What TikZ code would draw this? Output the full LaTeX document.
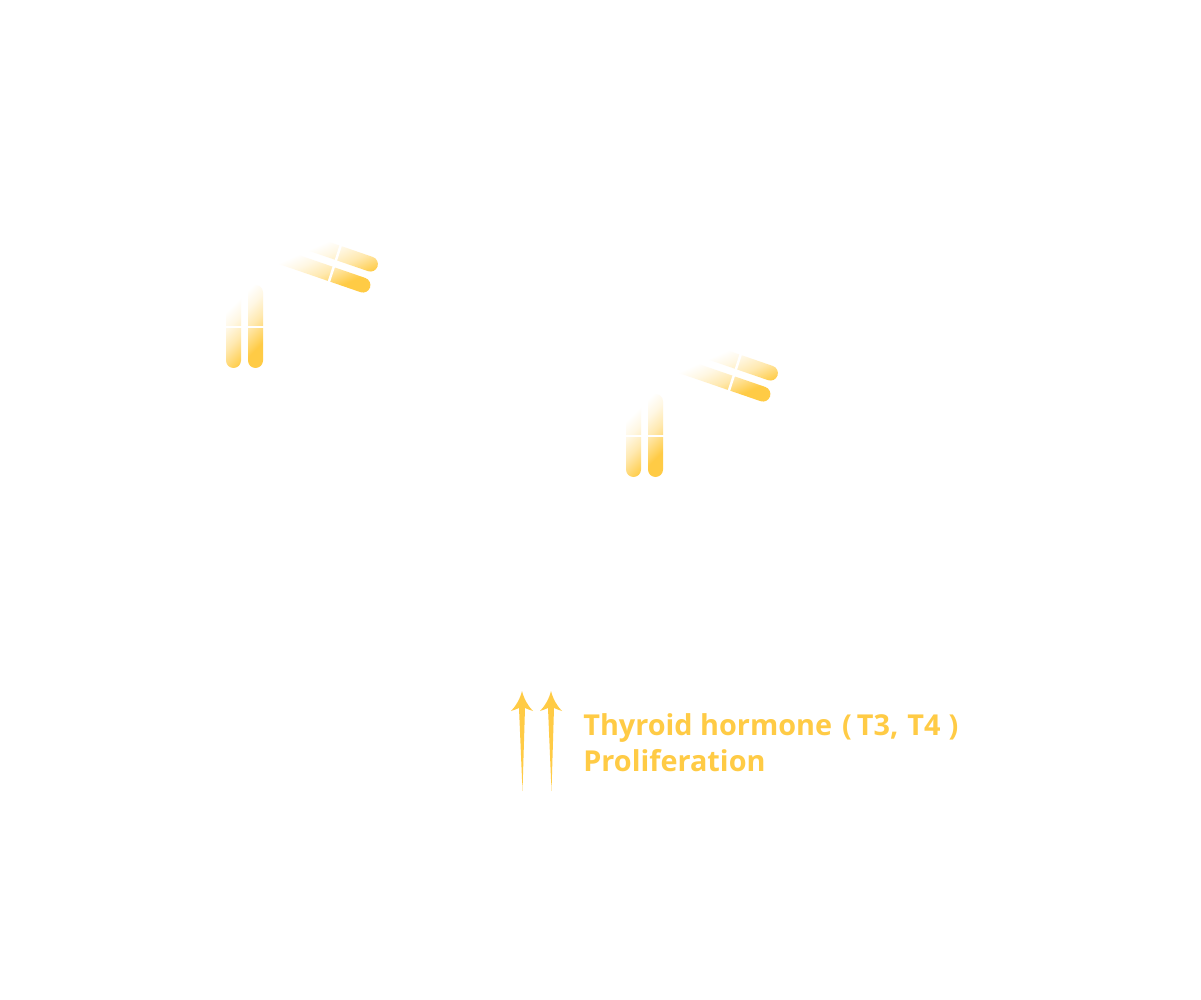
\documentclass[tikz,border=0pt]{standalone}
\usepackage{fontspec}
\setmainfont{Open Sans}
\usepackage{xcolor}
\definecolor{hormone}{HTML}{FFCB45}
\colorlet{hormonemid}{hormone!43}
\colorlet{hormonepale}{hormone!15}
\pgfdeclareverticalshading{armlower}{100bp}{color(0bp)=(hormone); color(25bp)=(hormone); color(33.5bp)=(hormonemid); color(39.5bp)=(hormonepale); color(45bp)=(white); color(100bp)=(white)}
\pgfdeclareverticalshading{armupper}{100bp}{color(0bp)=(hormone); color(27bp)=(hormone); color(33.5bp)=(hormonemid); color(39bp)=(hormonepale); color(43.5bp)=(white); color(100bp)=(white)}
\tikzset{
  armgap/.style={draw=white, line width=0.05cm},
  hormonelabel/.style={anchor=base west, text=hormone, font=\fontsize{16.4pt}{20pt}\bfseries, inner sep=0pt},
  uparrow/.style={fill=hormone, draw=none}
}
\begin{document}
\begin{tikzpicture}[x=0.02cm,y=-0.02cm]
\useasboundingbox (0,0) rectangle (1201,1000);
\fill[white] (0,0) rectangle (1201,1000);

% the two receptors
\foreach \dx/\dy in {0/0,400/109}{
\begin{scope}[shift={(\dx,\dy)}]
\begin{scope}
\clip[rounded corners=0.15cm]
  (226,285) -- (241,285) -- (241,368) -- (226,368) -- cycle
  (248,285) -- (263,285) -- (263,368) -- (248,368) -- cycle;
\shade[shading=armlower, shading angle=45] (148,253) rectangle (268,373);
\end{scope}
\draw[armgap] (224,327) -- (265,327);
\begin{scope}
\clip[rounded corners=0.15cm]
  (285.3,226.8) -- (379.9,259.4) -- (375.1,273.6) -- (280.5,241) -- cycle
  (277.8,247.8) -- (372.4,280.4) -- (367.6,294.6) -- (273,262) -- cycle;
\shade[shading=armupper, shading angle=24] (245,157) rectangle (385,297);
\end{scope}
\draw[armgap] (342,241.5) -- (327,287.5);
\end{scope}
}

% arrows
\coordinate (up1) at (522,691);
\coordinate (up2) at (551,691);
\foreach \a in {up1,up2}{
\fill[uparrow] (\a) .. controls ([shift={(2,8)}]\a) and ([shift={(6,15)}]\a) .. ([shift={(11,20)}]\a)
  .. controls ([shift={(8,19)}]\a) and ([shift={(5,18)}]\a) .. ([shift={(3,17)}]\a)
  -- ([shift={(0.5,100)}]\a) -- ([shift={(-3,17)}]\a)
  .. controls ([shift={(-5,18)}]\a) and ([shift={(-8,19)}]\a) .. ([shift={(-11,20)}]\a)
  .. controls ([shift={(-6,15)}]\a) and ([shift={(-2,8)}]\a) .. cycle;
}

\node[hormonelabel] (thyroid) at (583,735) {Thyroid hormone\hspace{0.2cm}(\hspace{0.1cm}T3,\hspace{0.03cm} T4\hspace{0.16cm})};
\node[hormonelabel] (prolif) at (583,771) {Proliferation};
\end{tikzpicture}
\end{document}
